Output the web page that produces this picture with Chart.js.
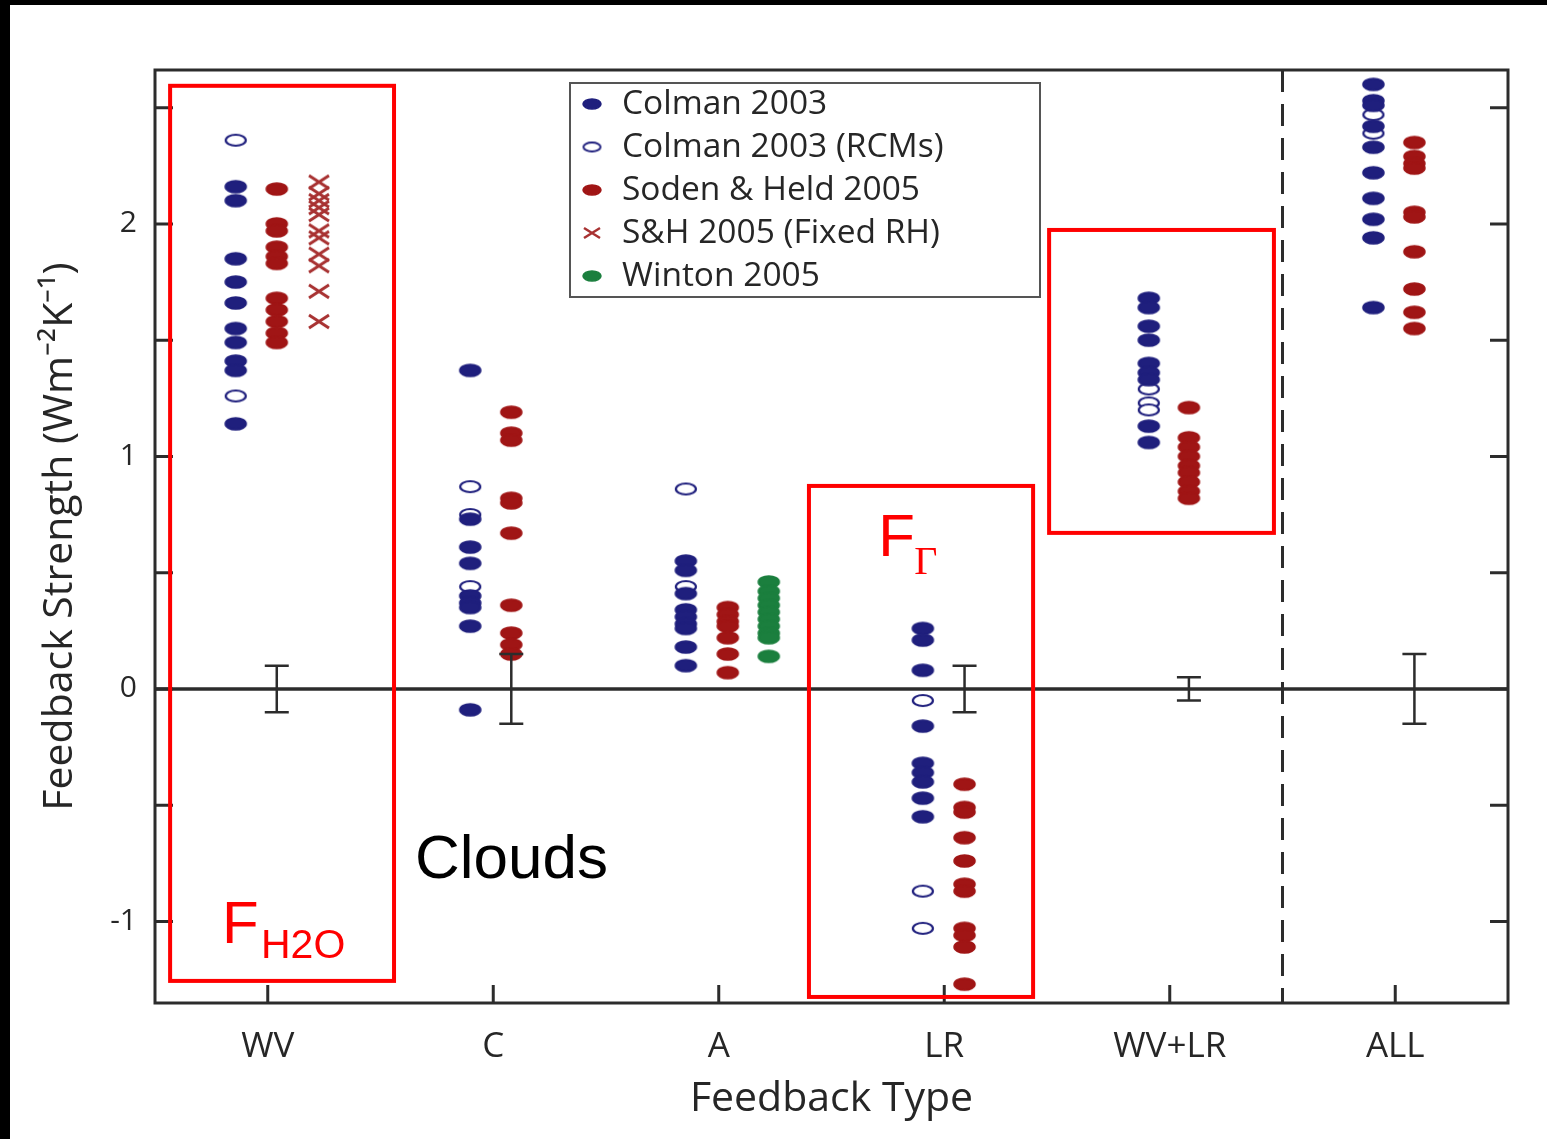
<!DOCTYPE html>
<html>
<head>
<meta charset="utf-8">
<script src="https://cdn.jsdelivr.net/npm/chart.js@4.4.1/dist/chart.umd.min.js"></script>
<style>
  html, body { margin: 0; padding: 0; background: #fff; }
  #wrap { width: 1547px; height: 1139px; }
</style>
</head>
<body>
<div id="wrap"><canvas id="grafico"></canvas></div>
<script>
// Categorías del eje X y marcas del eje Y
const categorias = ['WV', 'C', 'A', 'LR', 'WV+LR', 'ALL'];
const yTicks = [-1, 0, 1, 2];
const yMinor = [-1, -0.5, 0, 0.5, 1, 1.5, 2, 2.5];

// Valores por categoría (WV, C, A, LR, WV+LR, ALL)
const colman = [
  [2.16, 2.10, 1.85, 1.75, 1.66, 1.55, 1.49, 1.41, 1.37, 1.14],
  [1.37, 0.73, 0.61, 0.54, 0.40, 0.37, 0.35, 0.27, -0.09],
  [0.55, 0.51, 0.41, 0.34, 0.31, 0.28, 0.26, 0.18, 0.10],
  [0.26, 0.21, 0.08, -0.16, -0.32, -0.36, -0.40, -0.47, -0.55],
  [1.68, 1.64, 1.56, 1.50, 1.40, 1.36, 1.33, 1.13, 1.06],
  [2.60, 2.53, 2.51, 2.42, 2.33, 2.22, 2.11, 2.02, 1.94, 1.64]
];
const colmanRCM = [
  [2.36, 1.26],
  [0.87, 0.75, 0.44],
  [0.86, 0.44],
  [-0.05, -0.87, -1.03],
  [1.29, 1.23, 1.20],
  [2.47, 2.39]
];
const soden = [
  [2.15, 2.00, 1.97, 1.90, 1.86, 1.83, 1.68, 1.63, 1.58, 1.53, 1.49],
  [1.19, 1.10, 1.07, 0.82, 0.80, 0.67, 0.36, 0.24, 0.19, 0.15],
  [0.35, 0.32, 0.29, 0.27, 0.22, 0.15, 0.07],
  [-0.41, -0.51, -0.53, -0.64, -0.74, -0.84, -0.87, -1.03, -1.06, -1.11, -1.27],
  [1.21, 1.08, 1.04, 1.00, 0.96, 0.93, 0.89, 0.85, 0.82],
  [2.35, 2.29, 2.26, 2.24, 2.05, 2.03, 1.88, 1.72, 1.62, 1.55]
];
const sodenFixedRH = [
  [2.18, 2.13, 2.10, 2.07, 2.04, 1.97, 1.94, 1.87, 1.82, 1.71, 1.58],
  [], [], [], [], []
];
const winton = [
  [], [],
  [0.46, 0.42, 0.39, 0.36, 0.33, 0.30, 0.27, 0.24, 0.22, 0.14],
  [], [], []
];
// semiamplitud de las barras de error (null = sin barra)
const errHalf = [0.1, 0.15, null, 0.1, 0.05, 0.15];

// desplazamiento horizontal de cada serie dentro de su categoría
const offColman = [-0.142, -0.102, -0.146, -0.095, -0.093, -0.097];
const offSoden = [0.04, 0.08, 0.04, 0.09, 0.085, 0.085];
const offFixed = [0.227, 0, 0, 0, 0, 0];
const offWinton = [0, 0, 0.222, 0, 0, 0];

const AZUL = '#1f1f7d', ROJO = '#a01515', VERDE = '#1b7f3e', CRUZ = '#a83232';
const GRIS = '#2c2c2c', TEXTO = '#262626';

function puntos(listas, off) {
  return listas.flatMap((vals, i) => vals.map(v => ({ x: i + off[i], y: v })));
}

// marcadores elípticos dibujados en un canvas auxiliar
function elipse(w, h, relleno, borde, lw) {
  const c = document.createElement('canvas');
  c.width = w + 4; c.height = h + 4;
  const g = c.getContext('2d');
  g.beginPath();
  g.ellipse(c.width / 2, c.height / 2, w / 2, h / 2, 0, 0, Math.PI * 2);
  g.fillStyle = relleno; g.fill();
  g.lineWidth = lw; g.strokeStyle = borde; g.stroke();
  return c;
}
function cruz(w, h, color, lw) {
  const c = document.createElement('canvas');
  c.width = w + 4; c.height = h + 4;
  const g = c.getContext('2d');
  g.strokeStyle = color; g.lineWidth = lw;
  g.beginPath();
  g.moveTo(2, 2); g.lineTo(w + 2, h + 2);
  g.moveTo(w + 2, 2); g.lineTo(2, h + 2);
  g.stroke();
  return c;
}

const mColman = elipse(21, 12, AZUL, AZUL, 1.5);
const mRCM = elipse(20, 11, '#ffffff', AZUL, 2.2);
const mSoden = elipse(21, 12, ROJO, ROJO, 1.5);
const mFixed = cruz(20, 13, CRUZ, 3);
const mWinton = elipse(21, 12, VERDE, VERDE, 1.5);

const leyenda = [
  { texto: 'Colman 2003', m: elipse(18, 10, AZUL, AZUL, 1.5) },
  { texto: 'Colman 2003 (RCMs)', m: elipse(17, 9, '#ffffff', AZUL, 2) },
  { texto: 'Soden & Held 2005', m: elipse(18, 10, ROJO, ROJO, 1.5) },
  { texto: 'S&H 2005 (Fixed RH)', m: cruz(16, 10, CRUZ, 2.5) },
  { texto: 'Winton 2005', m: elipse(18, 10, VERDE, VERDE, 1.5) }
];

// fondo, marco negro superior e izquierdo
const fondo = {
  id: 'fondo',
  beforeDraw(chart) {
    const c = chart.ctx;
    c.save();
    c.fillStyle = '#ffffff';
    c.fillRect(0, 0, chart.width, chart.height);
    c.fillStyle = '#000000';
    c.fillRect(0, 0, chart.width, 5);
    c.fillRect(0, 0, 10, chart.height);
    c.restore();
  }
};

// marco, marcas interiores, línea de cero, línea discontinua y barras de error
const ejes = {
  id: 'ejes',
  afterDatasetsDraw(chart) {
    const c = chart.ctx, a = chart.chartArea;
    const sx = chart.scales.x, sy = chart.scales.y;
    c.save();
    c.strokeStyle = GRIS;
    c.lineWidth = 3;
    c.strokeRect(a.left, a.top, a.right - a.left, a.bottom - a.top);

    c.beginPath();
    yMinor.forEach(v => {
      const y = sy.getPixelForValue(v);
      c.moveTo(a.left, y); c.lineTo(a.left + 18, y);
      c.moveTo(a.right, y); c.lineTo(a.right - 18, y);
    });
    categorias.forEach((_, i) => {
      const x = sx.getPixelForValue(i);
      c.moveTo(x, a.bottom); c.lineTo(x, a.bottom - 18);
    });
    c.stroke();

    const y0 = sy.getPixelForValue(0);
    c.lineWidth = 3.5;
    c.beginPath();
    c.moveTo(a.left, y0); c.lineTo(a.right, y0);
    c.stroke();

    const xd = sx.getPixelForValue(4.5);
    c.lineWidth = 3;
    c.setLineDash([22, 12]);
    c.beginPath();
    c.moveTo(xd, a.top); c.lineTo(xd, a.bottom);
    c.stroke();
    c.setLineDash([]);

    c.lineWidth = 2.5;
    c.beginPath();
    errHalf.forEach((e, i) => {
      if (e == null) return;
      const x = sx.getPixelForValue(i + offSoden[i]);
      const yt = sy.getPixelForValue(e), yb = sy.getPixelForValue(-e);
      c.moveTo(x, yt); c.lineTo(x, yb);
      c.moveTo(x - 12, yt); c.lineTo(x + 12, yt);
      c.moveTo(x - 12, yb); c.lineTo(x + 12, yb);
    });
    c.stroke();
    c.restore();
  },
  afterDraw(chart) {
    const c = chart.ctx;
    const sx = chart.scales.x, sy = chart.scales.y;
    c.save();

    // leyenda
    const lx = 570, ly = 83, lw = 470, lh = 214;
    c.fillStyle = '#ffffff';
    c.fillRect(lx, ly, lw, lh);
    c.strokeStyle = '#555555';
    c.lineWidth = 2;
    c.strokeRect(lx, ly, lw, lh);
    c.font = '33.5px "Open Sans"';
    c.fillStyle = TEXTO;
    c.textBaseline = 'middle';
    leyenda.forEach((it, k) => {
      const y = 104 + k * 43;
      c.drawImage(it.m, 592 - it.m.width / 2, y - it.m.height / 2);
      c.fillText(it.texto, 622, y);
    });

    // recuadros rojos
    c.strokeStyle = '#ff0000';
    c.lineWidth = 4;
    const caja = (x1, x2, y1, y2) => {
      const px1 = sx.getPixelForValue(x1), px2 = sx.getPixelForValue(x2);
      const py1 = sy.getPixelForValue(y1), py2 = sy.getPixelForValue(y2);
      c.strokeRect(px1, py1, px2 - px1, py2 - py1);
    };
    caja(-0.433, 0.560, 2.594, -1.256);
    caja(2.400, 3.394, 0.873, -1.325);
    caja(3.465, 4.462, 1.974, 0.671);

    c.textBaseline = 'alphabetic';
    c.fillStyle = '#ff0000';
    let x = sx.getPixelForValue(-0.203), y = sy.getPixelForValue(-1.092);
    c.font = '60px "Liberation Sans"';
    c.fillText('F', x, y);
    c.font = '41px "Liberation Sans"';
    c.fillText('H2O', x + 39, y + 15);

    x = sx.getPixelForValue(2.707); y = sy.getPixelForValue(0.572);
    c.font = '60px "Liberation Sans"';
    c.fillText('F', x, y);
    c.font = '40px "Liberation Serif"';
    c.fillText('Γ', x + 36, y + 18);

    c.fillStyle = '#000000';
    c.font = '62px "Liberation Sans"';
    c.fillText('Clouds', sx.getPixelForValue(0.653), sy.getPixelForValue(-0.813));
    c.restore();
  }
};

const serie = (label, data, marca) => ({
  label: label,
  data: data,
  pointStyle: marca,
  pointRadius: 10,
  pointHoverRadius: 10,
  showLine: false
});

const grafico = new Chart(document.getElementById('grafico').getContext('2d'), {
  type: 'scatter',
  data: {
    datasets: [
      serie('Colman 2003', puntos(colman, offColman), mColman),
      serie('Colman 2003 (RCMs)', puntos(colmanRCM, offColman), mRCM),
      serie('Soden & Held 2005', puntos(soden, offSoden), mSoden),
      serie('S&H 2005 (Fixed RH)', puntos(sodenFixedRH, offFixed), mFixed),
      serie('Winton 2005', puntos(winton, offWinton), mWinton)
    ]
  },
  options: {
    responsive: true,
    maintainAspectRatio: false,
    animation: false,
    layout: { padding: { top: 70, right: 39, left: 0, bottom: 0 } },
    plugins: {
      legend: { display: false },
      tooltip: { enabled: false }
    },
    scales: {
      x: {
        type: 'linear',
        min: -0.5,
        max: 5.5,
        afterBuildTicks(s) { s.ticks = categorias.map((_, i) => ({ value: i })); },
        afterFit(s) { s.height = 136; },
        grid: { display: false, drawTicks: false },
        border: { display: false },
        ticks: {
          padding: 23,
          color: TEXTO,
          font: { family: 'Open Sans', size: 35 },
          callback: v => categorias[v]
        },
        title: {
          display: true,
          text: 'Feedback Type',
          color: TEXTO,
          font: { family: 'Open Sans', size: 41, lineHeight: 1 },
          padding: { top: 0, bottom: 19 }
        }
      },
      y: {
        min: -1.351,
        max: 2.662,
        afterBuildTicks(s) { s.ticks = yTicks.map(v => ({ value: v })); },
        afterFit(s) { s.width = 155; },
        grid: { display: false, drawTicks: false },
        border: { display: false },
        ticks: {
          padding: 18,
          color: TEXTO,
          font: { family: 'Open Sans', size: 30 }
        },
        title: {
          display: true,
          text: 'Feedback Strength (Wm⁻²K⁻¹)',
          color: TEXTO,
          font: { family: 'Open Sans', size: 41, lineHeight: 1 },
          padding: { top: 40, bottom: 0 }
        }
      }
    }
  },
  plugins: [fondo, ejes]
});
</script>
</body>
</html>
